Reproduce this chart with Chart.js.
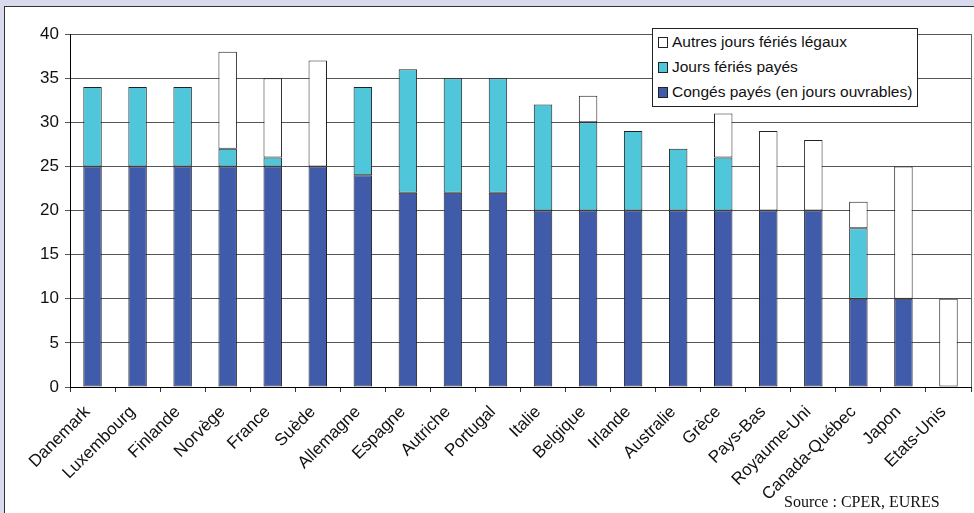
<!DOCTYPE html>
<html lang="fr">
<head>
<meta charset="utf-8">
<script src="https://cdn.jsdelivr.net/npm/chart.js@4.4.1/dist/chart.umd.min.js"></script>
<style>
    html, body { margin: 0; padding: 0; }
    body { width: 974px; height: 513px; overflow: hidden; background: #dadaee; position: relative; font-family: "Liberation Sans", Arial, sans-serif; }
    #panel { position: absolute; left: 4px; top: 6px; width: 990px; height: 530px; background: #fff; border: 1.5px solid #333; }
    #chart { position: absolute; left: 0; top: 0; }
    #legend { position: absolute; left: 652px; top: 28px; width: 264px; height: 77px; background: #fff; border: 1px solid #222; font-size: 15.5px; color: #111; }
    .item { position: absolute; left: 5px; height: 18px; line-height: 18px; white-space: nowrap; }
    .item span.sw { display: inline-block; width: 8px; height: 9px; border: 1px solid #222; margin-right: 4px; vertical-align: -1px; }
    #source { position: absolute; left: 784px; top: 493px; font-family: "Liberation Serif", "Times New Roman", serif; font-size: 16px; color: #111; }
</style>
</head>
<body>
<div id="panel"></div>
<canvas id="chart" width="974" height="513"></canvas>
<div id="legend">
    <div class="item" style="top:4px"><span class="sw" style="background:#ffffff"></span>Autres jours fériés légaux</div>
    <div class="item" style="top:29px"><span class="sw" style="background:#4fc6da"></span>Jours fériés payés</div>
    <div class="item" style="top:54px"><span class="sw" style="background:#3f5ba9"></span>Congés payés (en jours ouvrables)</div>
</div>
<div id="source">Source : CPER, EURES</div>
<script>
var pays = ['Danemark', 'Luxembourg', 'Finlande', 'Norvège', 'France', 'Suède', 'Allemagne', 'Espagne',
    'Autriche', 'Portugal', 'Italie', 'Belgique', 'Irlande', 'Australie', 'Grèce', 'Pays-Bas',
    'Royaume-Uni', 'Canada-Québec', 'Japon', 'Etats-Unis'];
var congesPayes = [25, 25, 25, 25, 25, 25, 24, 22, 22, 22, 20, 20, 20, 20, 20, 20, 20, 10, 10, 0];
var feriesPayes = [9, 9, 9, 2, 1, 0, 10, 14, 13, 13, 12, 10, 9, 7, 6, 0, 0, 8, 0, 0];
var autresFeries = [0, 0, 0, 11, 9, 12, 0, 0, 0, 0, 0, 3, 0, 0, 5, 9, 8, 3, 15, 10];
var yTicks = [0, 5, 10, 15, 20, 25, 30, 35, 40];

(function () {
    function segment(values) {
        return values.map(function (v) { return v > 0 ? v : null; });
    }

    // right edge of the plot area
    var plotFrame = {
        id: 'plotFrame',
        afterDatasetsDraw: function (chart) {
            var a = chart.chartArea;
            var ctx = chart.ctx;
            ctx.save();
            ctx.strokeStyle = '#666';
            ctx.lineWidth = 1;
            ctx.beginPath();
            ctx.moveTo(Math.round(a.right) + 0.5, a.top);
            ctx.lineTo(Math.round(a.right) + 0.5, a.bottom);
            ctx.stroke();
            ctx.restore();
        }
    };

    var commonBar = {
        borderColor: '#222',
        borderWidth: 1,
        borderSkipped: false,
        barPercentage: 0.41,
        categoryPercentage: 1
    };

    var tickFont = { family: '"Liberation Sans", Arial, sans-serif', size: 17 };

    new Chart(document.getElementById('chart').getContext('2d'), {
        type: 'bar',
        data: {
            labels: pays,
            datasets: [
                Object.assign({ label: 'Congés payés (en jours ouvrables)', data: segment(congesPayes), backgroundColor: '#3f5ba9' }, commonBar),
                Object.assign({ label: 'Jours fériés payés', data: segment(feriesPayes), backgroundColor: '#4fc6da' }, commonBar),
                Object.assign({ label: 'Autres jours fériés légaux', data: segment(autresFeries), backgroundColor: '#ffffff' }, commonBar)
            ]
        },
        options: {
            responsive: false,
            animation: false,
            layout: { padding: { top: 34, right: 3, left: 0, bottom: 0 } },
            plugins: { legend: { display: false }, tooltip: { enabled: false } },
            scales: {
                x: {
                    stacked: true,
                    afterFit: function (scale) { scale.height = 126; },
                    border: { color: '#000', width: 1 },
                    grid: { offset: true, drawOnChartArea: false, drawTicks: true, tickLength: 5, color: '#333' },
                    ticks: {
                        autoSkip: false,
                        maxRotation: 45,
                        minRotation: 45,
                        padding: 10,
                        labelOffset: -5,
                        color: '#111',
                        font: tickFont
                    }
                },
                y: {
                    stacked: true,
                    min: 0,
                    max: 40,
                    afterFit: function (scale) { scale.width = 70; },
                    afterBuildTicks: function (scale) {
                        scale.ticks = yTicks.map(function (v) { return { value: v }; });
                    },
                    border: { color: '#000', width: 1 },
                    grid: { color: '#555', lineWidth: 1, drawTicks: true, tickLength: 5 },
                    ticks: {
                        padding: 6,
                        color: '#111',
                        font: tickFont
                    }
                }
            }
        },
        plugins: [plotFrame]
    });
})();
</script>
</body>
</html>
